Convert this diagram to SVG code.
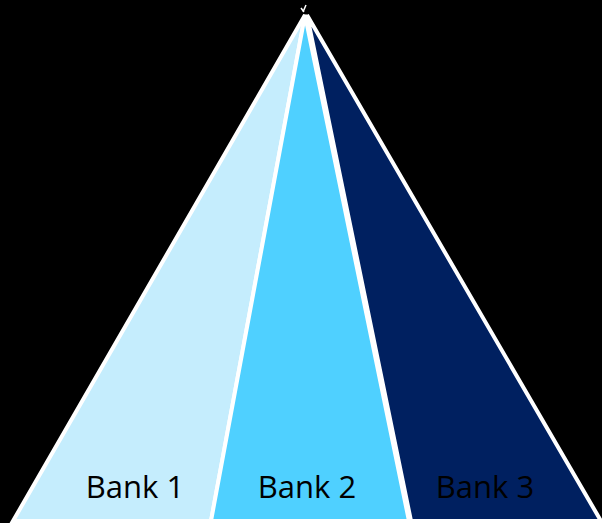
<svg xmlns="http://www.w3.org/2000/svg" width="602" height="523" viewBox="0 0 602 523">
<style>
.tri{stroke:#FFFFFF;stroke-width:4;stroke-linejoin:miter}
.lbl{font-family:"Open Sans","Noto Sans","DejaVu Sans",sans-serif;font-size:31px;fill:#000000;text-anchor:middle}
</style>
<rect width="602" height="523" fill="#000000"/>
<g id="bank1">
<polygon class="tri" points="305,15 13,521 211,521" fill="#C5EDFD"/>
<text class="lbl" x="135" y="498">Bank 1</text>
</g>
<g id="bank2">
<polygon class="tri" points="305,15 211,521 409,521" fill="#4FD0FF"/>
<text class="lbl" x="307" y="498">Bank 2</text>
</g>
<g id="bank3">
<polygon class="tri" points="307,15 411,521 601,521" fill="#002060"/>
<text class="lbl" x="485" y="498">Bank 3</text>
</g>
<g id="connectors">
<path d="M303,12 L306,5 M304,12 L301,8" stroke="#FFFFFF" stroke-width="1.5" fill="none"/>
</g>
</svg>
